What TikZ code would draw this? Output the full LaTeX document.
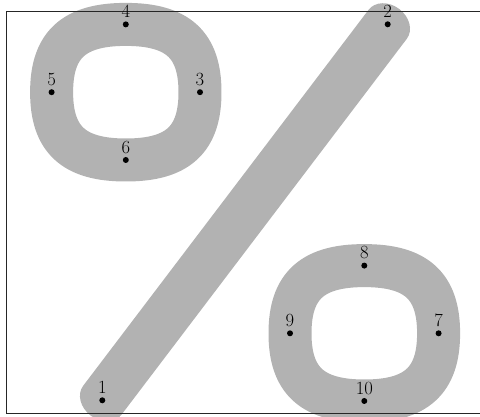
\documentclass[tikz,border=0pt]{standalone}
\usepackage{fontspec}
\begin{document}
\begin{tikzpicture}[x=1pt,y=1pt,
  stroke/.style={draw=black!30, line cap=round, line join=round},
  dot/.style={circle, fill=black, inner sep=0pt, minimum size=6pt},
  lbl/.style={inner sep=0pt, font=\fontsize{18.6}{22}\selectfont},
  frame/.style={draw=black!85, line width=1pt}]
\useasboundingbox (0,0) rectangle (480,417);
% slash drawn with an elliptical pen (canvas transform)
\begin{scope}[transform canvas={rotate=-37.3, yscale=0.8}]
\begin{scope}[yscale=1/0.8, rotate=37.3]
  \draw[stroke, line width=48pt] (102.3,16.7) -- (387.7,392.7);
\end{scope}
\end{scope}
% the two bowls, round pen
\draw[stroke, line width=43pt] (200,324.8) .. controls (200,372.3) and (177.7,392.6) .. (125.8,392.6)
   .. controls (73.9,392.6) and (51.6,372.3) .. (51.6,324.8)
   .. controls (51.6,277.3) and (73.9,257.0) .. (125.8,257.0)
   .. controls (177.7,257.0) and (200,277.3) .. cycle;
\draw[stroke, line width=43pt] (438.6,83.7) .. controls (438.6,131.1) and (416.3,151.4) .. (364.3,151.4)
   .. controls (312.3,151.4) and (290,131.1) .. (290,83.7)
   .. controls (290,36.3) and (312.3,16) .. (364.3,16)
   .. controls (416.3,16) and (438.6,36.3) .. cycle;
\draw[frame] (6.7,3.3) rectangle (483,405);
\node[dot, label={[lbl, label distance=3pt]above:1}] (p1) at (102.3,16.7) {};
\node[dot, label={[lbl, label distance=3pt]above:2}] (p2) at (387.7,392.7) {};
\node[dot, label={[lbl, label distance=3pt]above:3}] (p3) at (200,324.8) {};
\node[dot, label={[lbl, label distance=3pt]above:4}] (p4) at (125.8,392.6) {};
\node[dot, label={[lbl, label distance=3pt]above:5}] (p5) at (51.6,324.8) {};
\node[dot, label={[lbl, label distance=3pt]above:6}] (p6) at (125.8,257.0) {};
\node[dot, label={[lbl, label distance=3pt]above:7}] (p7) at (438.6,83.7) {};
\node[dot, label={[lbl, label distance=3pt]above:8}] (p8) at (364.3,151.4) {};
\node[dot, label={[lbl, label distance=3pt]above:9}] (p9) at (290,83.7) {};
\node[dot, label={[lbl, label distance=3pt]above:10}] (p10) at (364.3,16) {};
\end{tikzpicture}
\end{document}
